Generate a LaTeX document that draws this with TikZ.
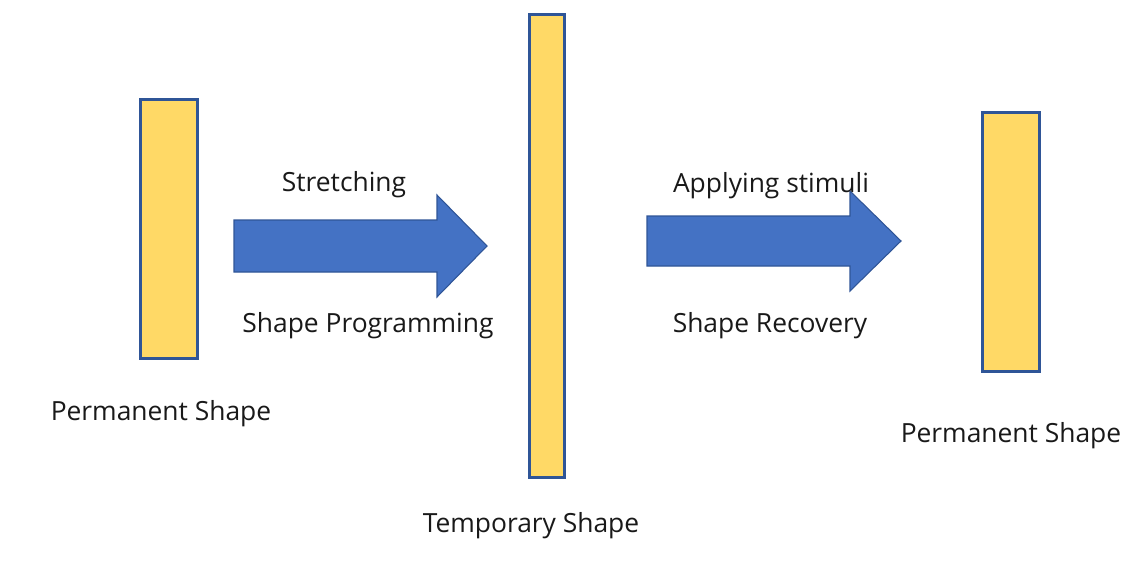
\documentclass[tikz,border=0pt]{standalone}
\usepackage{fontspec}
\setmainfont{Open Sans}
\usetikzlibrary{calc,positioning}
\definecolor{barcolor}{RGB}{255,217,102}
\definecolor{edgecolor}{RGB}{47,85,151}
\definecolor{arrowcolor}{RGB}{68,114,196}

\begin{document}
\begin{tikzpicture}[%
    x=0.75pt, y=-0.75pt,        % one unit per pixel, y going down
    ]
\tikzset{
  bar/.style={draw=edgecolor, line width=2.25pt, fill=barcolor, inner sep=0pt},
  bigarrow/.style={draw=edgecolor, line width=0.8pt, fill=arrowcolor, line join=miter},
  lbl/.style={anchor=base, inner sep=0pt, font=\fontsize{19.8pt}{23pt}\selectfont, text=black!90},
}
\useasboundingbox (0,0) rectangle (1130,561);

% the three shapes
\node [bar, minimum width=42.75pt, minimum height=194.25pt] (perm1) at (169,229) {};
\node [bar, minimum width=26.25pt, minimum height=347.25pt] (temp) at (547,246) {};
\node [bar, minimum width=42.75pt, minimum height=194.25pt] (perm2) at (1011,242) {};

% arrow ends
\coordinate (s1) at (234,246);
\coordinate (t1) at (487,246);
\coordinate (s2) at (647,241);
\coordinate (t2) at (901,241);

%arrows
\draw [bigarrow] ($(s1)+(0,-26)$) -- ($(t1)+(-50,-26)$) -- ($(t1)+(-50,-51)$) -- (t1)
  -- ($(t1)+(-50,51)$) -- ($(t1)+(-50,26)$) -- ($(s1)+(0,26)$) -- cycle;
\draw [bigarrow] ($(s2)+(0,-25)$) -- ($(t2)+(-51,-25)$) -- ($(t2)+(-51,-50)$) -- (t2)
  -- ($(t2)+(-51,50)$) -- ($(t2)+(-51,25)$) -- ($(s2)+(0,25)$) -- cycle;

%labels
\node [lbl] (stretchlbl) at (344,191) {Stretching};
\node [lbl] (proglbl) at (368,332) {Shape Programming};
\node [lbl] (stimlbl) at (771,192) {Applying stimuli};
\node [lbl] (recovlbl) at (770,332) {Shape Recovery};
\node [lbl] (perm1lbl) at (161,420) {Permanent Shape};
\node [lbl] (templbl) at (531,532) {Temporary Shape};
\node [lbl] (perm2lbl) at (1011,442) {Permanent Shape};

\end{tikzpicture}
\end{document}
